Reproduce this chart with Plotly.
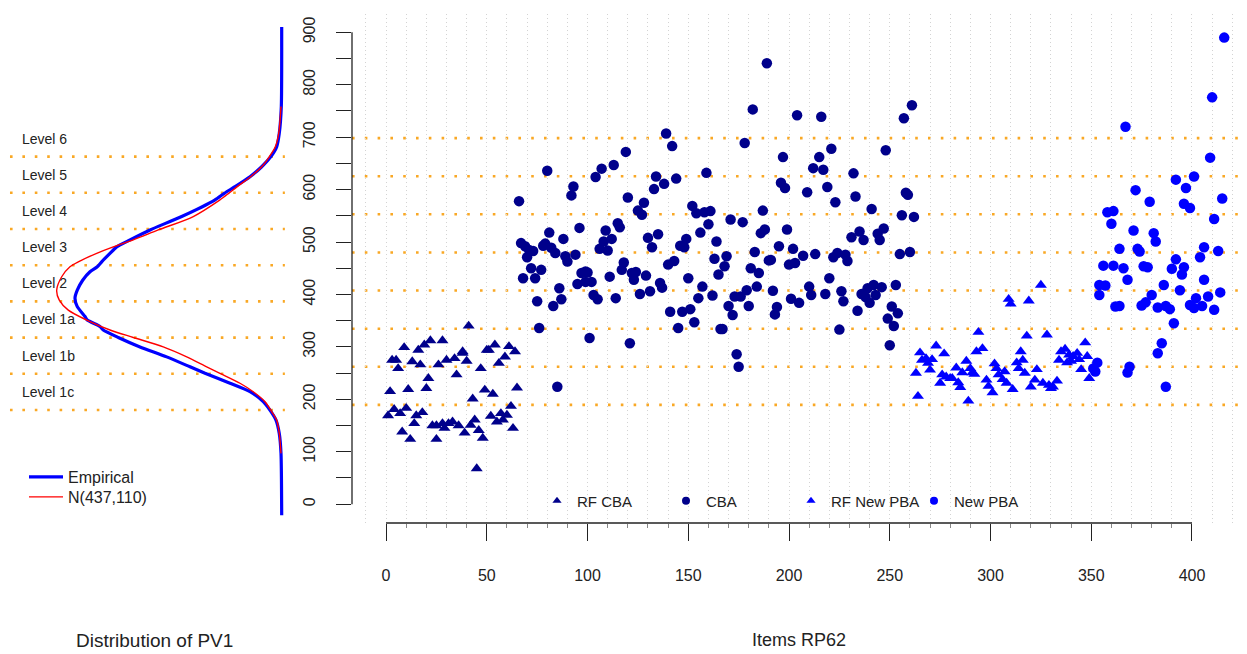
import plotly.graph_objects as go

# ---------------- data ----------------
level_cuts = [189.33, 262.04, 334.75, 407.47, 480.18, 552.89, 625.61, 698.32]
level_names = ["Level 1c", "Level 1b", "Level 1a", "Level 2", "Level 3", "Level 4", "Level 5", "Level 6"]

# empirical density of PV1 (density x 1000) at PV1 values
emp_pv = [959, 799, 745, 718, 698, 678, 658, 638, 625, 611, 578, 551, 531, 517, 504, 487, 477, 467, 450,
          430, 414, 397, 377, 370, 357, 350, 335, 316, 296, 276, 263, 243, 226, 206, 189, 169, 142, 102, -22]
emp_dens = [0, 0.006, 0.039, 0.081, 0.177, 0.322, 0.511, 0.753, 0.920, 1.080, 1.612, 2.123, 2.445, 2.660,
            2.768, 2.902, 2.973, 3.090, 3.208, 3.295, 3.332, 3.295, 3.171, 3.134, 2.929, 2.876, 2.634, 2.284,
            1.854, 1.478, 1.236, 0.833, 0.511, 0.297, 0.189, 0.092, 0.039, 0.011, 0]

# N(437,110) density (x 1000)
norm_pv = [799, 745, 718, 698, 678, 658, 638, 625, 611, 578, 551, 531, 517, 504, 487, 477, 457, 430, 410,
           390, 370, 350, 335, 316, 296, 276, 263, 243, 226, 206, 189, 169, 142, 102]
norm_dens = [0.011, 0.048, 0.103, 0.200, 0.322, 0.500, 0.716, 0.850, 1.000, 1.425, 1.989, 2.392, 2.715,
             2.982, 3.279, 3.413, 3.546, 3.627, 3.585, 3.440, 3.143, 2.767, 2.392, 1.909, 1.531, 1.209,
             0.995, 0.672, 0.458, 0.269, 0.177, 0.081, 0.039, 0.011]

rf_cba_x = [1, 2, 3, 5, 4, 7, 6, 9, 8, 10, 11, 12, 13, 14, 15, 16, 17, 18, 20, 21, 19, 22, 23, 25, 25, 26, 28,
            28, 29, 30, 31, 33, 34, 35, 36, 38, 38, 39, 40, 41, 42, 43, 44, 46, 45, 47, 48, 49, 50, 51, 52, 53,
            54, 55, 56, 57, 58, 59, 60, 61, 62, 63, 64, 65]
rf_cba_y = [169, 215, 275, 275, 181, 173, 259, 299, 138, 183, 219, 124, 272, 154, 169, 294, 266, 175, 221, 240,
            304, 312, 150, 124, 150, 266, 312, 154, 145, 275, 154, 157, 278, 247, 150, 288, 291, 136, 273, 340,
            151, 201, 161, 141, 68, 259, 126, 218, 294, 294, 168, 210, 304, 157, 269, 173, 161, 281, 170, 301,
            187, 145, 291, 222]

cba_x = [66, 67, 69, 71, 73, 70, 72, 68, 74, 77, 75, 76, 80, 78, 79, 81, 82, 84, 86, 87, 83, 88, 89, 90, 94, 92,
         93, 96, 95, 97, 99, 100, 99, 102, 101, 103, 105, 104, 107, 106, 108, 109, 110, 112, 111, 113, 114, 115,
         116, 117, 118, 119, 120, 121, 122, 123, 124, 125, 127, 126, 128, 129, 130, 131, 132, 133, 134, 135, 136,
         137, 138, 139, 140, 141, 142, 143, 144, 145, 147, 146, 148, 149, 150, 151, 152, 153, 154, 155, 156, 157,
         158, 159, 160, 161, 162, 163, 164, 165, 166, 167, 168, 169, 170, 171, 172, 173, 174, 175, 176, 177, 178,
         179, 180, 181, 182, 183, 184, 185, 186, 187, 188, 189, 190, 191, 192, 193, 194, 195, 196, 197, 198, 199,
         200, 201, 202, 203, 204, 205, 207, 209, 210, 211, 212, 213, 215, 216, 217, 218, 219, 220, 221, 222, 223,
         224, 225, 226, 227, 228, 229, 231, 232, 233, 234, 235, 236, 237, 238, 239, 240, 241, 242, 243, 244, 245,
         246, 247, 248, 249, 250, 251, 252, 253, 254, 255, 256, 257, 258, 259, 260, 261, 262, 85]
cba_y = [578, 498, 492, 485, 483, 471, 450, 431, 431, 447, 387, 336, 636, 493, 497, 518, 489, 479, 412, 391, 378,
         506, 473, 463, 476, 589, 606, 527, 420, 441, 444, 442, 424, 424, 317, 399, 391, 624, 640, 487, 501, 522,
         484, 506, 434, 647, 393, 536, 528, 447, 461, 672, 585, 307, 441, 428, 443, 560, 552, 401, 575, 436, 508,
         406, 490, 601, 625, 515, 422, 413, 611, 707, 457, 367, 683, 464, 621, 336, 367, 493, 490, 506, 431, 372,
         569, 347, 555, 393, 518, 415, 557, 632, 534, 559, 398, 468, 501, 438, 334, 334, 454, 473, 378, 543, 361,
         396, 286, 262, 396, 538, 689, 408, 378, 450, 753, 481, 415, 441, 517, 560, 524, 841, 465, 466, 407, 362,
         376, 492, 613, 662, 603, 524, 457, 392, 487, 460, 742, 384, 474, 595, 415, 399, 641, 477, 662, 739, 638,
         401, 605, 431, 678, 471, 576, 479, 333, 406, 387, 476, 464, 509, 631, 587, 369, 520, 401, 504, 395, 412,
         384, 563, 418, 399, 516, 504, 414, 526, 675, 354, 303, 377, 340, 418, 364, 477, 551, 736, 594, 590, 481,
         761, 548, 224]

rf_pba_x = [263, 264, 265, 266, 268, 269, 270, 271, 273, 275, 276, 277, 278, 280, 281, 283, 284, 285, 286, 288,
            289, 290, 291, 292, 294, 293, 296, 298, 299, 301, 302, 303, 304, 306, 307, 308, 309, 310, 311, 313,
            314, 315, 316, 317, 318, 319, 320, 322, 323, 325, 326, 328, 329, 330, 331, 333, 334, 335, 337, 338,
            339, 340, 341, 343, 344, 345, 347, 348, 349]
rf_pba_y = [250, 206, 289, 275, 278, 269, 256, 276, 302, 231, 247, 287, 243, 240, 240, 260, 232, 223, 251, 273,
            197, 259, 251, 248, 328, 291, 297, 237, 225, 213, 268, 259, 247, 238, 253, 231, 391, 382, 219, 270,
            259, 291, 275, 250, 321, 388, 224, 237, 257, 418, 231, 323, 227, 221, 224, 235, 275, 291, 296, 270,
            285, 273, 282, 288, 276, 257, 308, 282, 240]

pba_x = [416, 410, 367, 409, 392, 401, 397, 415, 372, 379, 396, 399, 411, 358, 361, 360, 371, 381, 382, 364, 373,
         374, 406, 413, 404, 392, 356, 361, 366, 376, 378, 390, 396, 395, 368, 406, 354, 357, 386, 354, 380, 394,
         414, 402, 408, 362, 364, 375, 377, 383, 387, 389, 399, 401, 405, 411, 391, 385, 383, 369, 368, 387, 353,
         351, 352]
pba_y = [890, 776, 720, 661, 619, 625, 603, 583, 599, 577, 573, 565, 544, 557, 559, 535, 522, 517, 501, 487, 487,
         482, 490, 483, 471, 467, 455, 455, 450, 454, 452, 449, 452, 438, 428, 428, 418, 417, 418, 399, 399, 408,
         404, 393, 396, 377, 378, 379, 385, 375, 378, 372, 380, 374, 378, 371, 345, 307, 288, 262, 251, 224, 270,
         259, 253]

x_ticks = [0, 50, 100, 150, 200, 250, 300, 350, 400]
y_ticks = [0, 100, 200, 300, 400, 500, 600, 700, 800, 900]

# ---------------- figure ----------------
W, H = 1247, 654
FONT = "Liberation Sans, Arial, sans-serif"
NAVY = "#00008B"
BLUE = "#0000FF"
ORANGE = "#F9A825"

def px_x(p):
    return p / W

def px_y(p):
    return (H - p) / H

y_dom = [px_y(523), px_y(14)]
right_dom = [px_x(352), 1.0]
left_dom = [px_x(5), px_x(290)]

fig = go.Figure()

# dummy trace to make the grid axis render
fig.add_trace(go.Scatter(x=[None], y=[None], xaxis="x3", yaxis="y", showlegend=False, hoverinfo="skip"))

fig.add_trace(go.Scatter(x=emp_dens, y=emp_pv, mode="lines", name="Empirical", xaxis="x2", yaxis="y2",
                         line=dict(color=BLUE, width=3.2, shape="spline", smoothing=0.6), legend="legend"))
fig.add_trace(go.Scatter(x=norm_dens, y=norm_pv, mode="lines", name="N(437,110)", xaxis="x2", yaxis="y2",
                         line=dict(color="#FF0000", width=1.4, shape="spline", smoothing=0.8), legend="legend4"))

marker_specs = [
    (rf_cba_x, rf_cba_y, "RF CBA", "triangle-up", NAVY, "legend2"),
    (cba_x, cba_y, "CBA", "circle", NAVY, "legend2"),
    (rf_pba_x, rf_pba_y, "RF New PBA", "triangle-up", BLUE, "legend3"),
    (pba_x, pba_y, "New PBA", "circle", BLUE, "legend5"),
]
for xs, ys, nm, sym, col, lg in marker_specs:
    fig.add_trace(go.Scatter(x=xs, y=ys, mode="markers", name=nm, showlegend=False,
                             marker=dict(symbol=sym, color=col, size=10.5, line=dict(width=0)),
                             xaxis="x", yaxis="y"))
for xs, ys, nm, sym, col, lg in marker_specs:
    fig.add_trace(go.Scatter(x=[None], y=[None], mode="markers", name=nm, legend=lg,
                             marker=dict(symbol=sym, color=col, size=8, line=dict(width=0)),
                             xaxis="x", yaxis="y"))

shapes = []
for c in level_cuts:
    shapes.append(dict(type="line", xref="x domain", yref="y", x0=0, x1=1, y0=c, y1=c, layer="below",
                       line=dict(color=ORANGE, width=2.6, dash="2.6px,10.2px")))
    shapes.append(dict(type="line", xref="x2 domain", yref="y2", x0=0.0175, x1=0.982, y0=c, y1=c, layer="below",
                       line=dict(color=ORANGE, width=2.6, dash="2.6px,9.8px")))
# axis lines (R style: only span the tick range)
shapes.append(dict(type="line", xref="x", yref="paper", x0=x_ticks[0], x1=x_ticks[-1], y0=y_dom[0], y1=y_dom[0],
                   line=dict(color="#222", width=1.3)))
shapes.append(dict(type="line", xref="paper", yref="y", x0=right_dom[0], x1=right_dom[0], y0=y_ticks[0],
                   y1=y_ticks[-1], line=dict(color="#222", width=1.3)))

annotations = []
for i, nm in enumerate(level_names):
    mid = level_cuts[i] + (level_cuts[1] - level_cuts[0]) / 2
    annotations.append(dict(text=nm, xref="paper", yref="y2", x=px_x(20), y=mid, xanchor="left", yanchor="middle",
                            showarrow=False, font=dict(size=14, color="#222", family=FONT)))
annotations.append(dict(text="Distribution of PV1", xref="paper", yref="paper", x=px_x(154), y=px_y(640),
                        xanchor="center", yanchor="middle", showarrow=False,
                        font=dict(size=19, color="#222", family=FONT)))
annotations.append(dict(text="Items RP62", xref="paper", yref="paper", x=px_x(799), y=px_y(640),
                        xanchor="center", yanchor="middle", showarrow=False,
                        font=dict(size=18, color="#222", family=FONT)))

minor_x = [v for v in range(10, 400, 10) if v % 50 != 0]
minor_y = [v + 50 for v in y_ticks[:-1]]

legend_common = dict(bgcolor="rgba(0,0,0,0)", font=dict(size=16, color="#222", family=FONT))
legend_right = dict(bgcolor="rgba(0,0,0,0)", font=dict(size=15, color="#222", family=FONT))

fig.update_layout(
    width=W, height=H,
    margin=dict(l=0, r=0, t=0, b=0, pad=0, autoexpand=False),
    paper_bgcolor="white", plot_bgcolor="white",
    font=dict(family=FONT, color="#222"),
    xaxis=dict(domain=right_dom, range=[-16.9, 427.3], anchor="y", tickmode="array", tickvals=x_ticks,
               ticks="outside", ticklen=17, tickwidth=1.3, tickcolor="#222", showgrid=False, zeroline=False,
               showline=False, tickfont=dict(size=16, color="#222"), ticklabelstandoff=21, automargin=False,
               minor=dict(tickmode="array", tickvals=minor_x, ticks="outside", ticklen=4, tickcolor="#888",
                          showgrid=False)),
    xaxis3=dict(overlaying="x", range=[-16.9, 427.3], anchor="y", showgrid=True, gridcolor="#D3D3D3",
                griddash="1px,3px", gridwidth=1, tick0=0, dtick=10, showticklabels=False, ticks="",
                zeroline=False, showline=False, automargin=False),
    yaxis=dict(domain=y_dom, range=[-35.9, 935], anchor="x", tickmode="array", tickvals=y_ticks,
               ticks="outside", ticklen=15, tickwidth=1.3, tickcolor="#222", showgrid=False, zeroline=False,
               showline=False, tickangle=-90, tickfont=dict(size=16, color="#222"), ticklabelstandoff=15,
               automargin=False,
               minor=dict(tickmode="array", tickvals=minor_y, ticks="outside", ticklen=15, tickcolor="#222",
                          showgrid=False)),
    xaxis2=dict(domain=left_dom, range=[4.460, -0.134], anchor="y2", visible=False, automargin=False),
    yaxis2=dict(domain=y_dom, range=[-37.8, 984.9], anchor="x2", visible=False, automargin=False),
    shapes=shapes,
    annotations=annotations,
    legend=dict(x=px_x(24), y=px_y(477), xanchor="left", yanchor="middle", itemwidth=34, **legend_common),
    legend4=dict(x=px_x(24), y=px_y(497), xanchor="left", yanchor="middle", itemwidth=34, **legend_common),
    legend2=dict(orientation="h", x=px_x(537), y=px_y(501), xanchor="left", yanchor="middle",
                 entrywidth=84, entrywidthmode="pixels", **legend_right),
    legend3=dict(orientation="h", x=px_x(791), y=px_y(501), xanchor="left", yanchor="middle", **legend_right),
    legend5=dict(orientation="h", x=px_x(914), y=px_y(501), xanchor="left", yanchor="middle", **legend_right),
)

fig.write_html("out.html", config={"displayModeBar": False},
               post_script="document.body.style.margin='0';document.body.style.padding='0';"
                           "document.body.style.overflow='hidden';")
